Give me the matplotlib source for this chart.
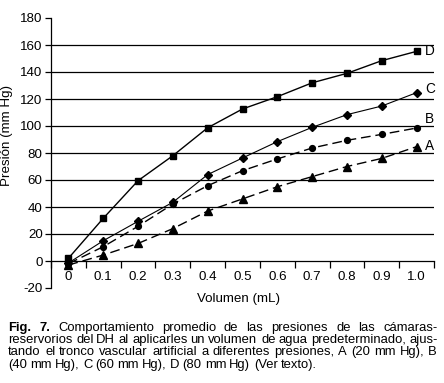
import matplotlib.pyplot as plt
import numpy as np

plt.rcParams['font.family'] = ['Liberation Sans', 'DejaVu Sans']
plt.rcParams['axes.unicode_minus'] = False

# volumen (mL)
volumen = [0, 0.1, 0.2, 0.3, 0.4, 0.5, 0.6, 0.7, 0.8, 0.9, 1.0]
x_labels = ['0', '0.1', '0.2', '0.3', '0.4', '0.5', '0.6', '0.7', '0.8', '0.9', '1.0']

# presion (mm Hg) para cada ajuste del tronco vascular
serie_a = [-3, 4.4, 13, 24, 37, 46, 55, 62.5, 70, 76, 84.7]
serie_b = [-2, 10.6, 25.7, 42.2, 55.8, 66.9, 75.6, 83.7, 89.4, 93.8, 98.5]
serie_c = [-1.5, 15, 29.4, 43.5, 64, 76.3, 88.4, 99, 108.4, 114.8, 124.7]
serie_d = [2, 31.6, 59.5, 78, 98.7, 112.6, 121.7, 132, 139, 148.4, 155.3]

y_ticks = [-20, 0, 20, 40, 60, 80, 100, 120, 140, 160, 180]
grid_vals = [20, 40, 60, 80, 100, 120, 140, 160]

caption = [
    "Fig. 7. Comportamiento promedio de las presiones de las cámaras-",
    "reservorios del DH al aplicarles un volumen de agua predeterminado, ajus-",
    "tando el tronco vascular artificial a diferentes presiones, A (20 mm Hg), B",
    "(40 mm Hg), C (60 mm Hg), D (80 mm Hg) (Ver texto).",
]

W, H = 444, 383
fig = plt.figure(figsize=(W / 100, H / 100), dpi=100)
ax = fig.add_axes([51 / W, 1 - 288 / H, (434 - 51) / W, (288 - 18) / H])

for g in grid_vals:
    ax.axhline(g, color='black', lw=0.9, zorder=1)

dash = (7, 3.5)
ax.plot(volumen, serie_d, color='black', lw=1.0, marker='s', ms=5, zorder=3)
ax.plot(volumen, serie_c, color='black', lw=0.8, marker='D', ms=4.5, zorder=3)
ax.plot(volumen, serie_b, color='black', lw=1.0, marker='o', ms=4.2, dashes=dash, zorder=3)
ax.plot(volumen, serie_a, color='black', lw=1.0, marker='^', ms=5.2, dashes=dash, zorder=3)

offsets = {'D': (serie_d, 0.0), 'C': (serie_c, 2.7), 'B': (serie_b, 6.5), 'A': (serie_a, 0.7)}
for name, (s, dy) in offsets.items():
    ax.annotate(name, (volumen[-1], s[-1]), xytext=(6, dy), textcoords='offset points',
                ha='left', va='center', fontsize=9.8, annotation_clip=False)

ax.set_xlim(-0.05, 1.05)
ax.set_ylim(-20, 180)

ax.spines['top'].set_visible(False)
ax.spines['right'].set_visible(False)
ax.spines['bottom'].set_position(('data', 0))
ax.spines['bottom'].set_linewidth(0.9)
ax.spines['left'].set_linewidth(0.9)

ax.set_yticks(y_ticks)
ax.tick_params(axis='y', direction='out', length=4, width=0.9, pad=2, labelsize=9.6)

ax.set_xticks(volumen)
ax.set_xticklabels(x_labels)
ax.set_xticks(np.arange(-0.05, 1.06, 0.1), minor=True)
ax.tick_params(axis='x', which='major', length=0, pad=7, labelsize=9.6)
ax.tick_params(axis='x', which='minor', direction='out', length=5, width=0.9)

ax.set_xlabel('Volumen (mL)', fontsize=9.6, labelpad=0)
ax.xaxis.set_label_coords(0.49, -0.02)
ax.set_ylabel('Presión (mm Hg)', fontsize=9.6)
ax.yaxis.set_label_coords(-0.1, 0.565)

# caption, justified line by line
fig.canvas.draw()
renderer = fig.canvas.get_renderer()
left, right = 8, 437
baselines = [331, 343, 355, 368]
cap_size = 9.4
for i, line in enumerate(caption):
    words = line.split(' ')
    texts = []
    for j, w in enumerate(words):
        bold = (i == 0 and j < 2)
        t = fig.text(0, (H - baselines[i]) / H, w, fontsize=cap_size, va='baseline', ha='left',
                     fontweight='bold' if bold else 'normal')
        texts.append(t)
    widths = [t.get_window_extent(renderer).width for t in texts]
    if i < len(caption) - 1:
        gap = (right - left - sum(widths)) / (len(words) - 1)
    else:
        gap = 3.2
    xpos = left
    for t, wdt in zip(texts, widths):
        t.set_x(round(xpos) / W)
        xpos += wdt + gap

fig.savefig('out.png', dpi=100)
